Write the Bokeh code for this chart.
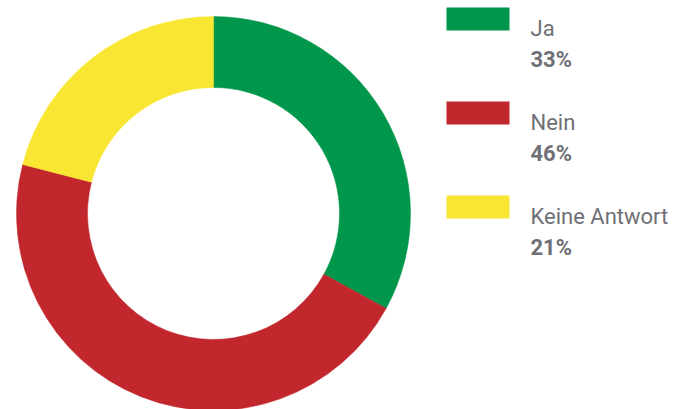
from bokeh.plotting import figure
from bokeh.models import ColumnDataSource
from bokeh.core.properties import value
from bokeh.embed import file_html
from bokeh.resources import INLINE
import math

categories = ["Ja", "Nein", "Keine Antwort"]
shares = [33, 46, 21]
labels = ["33%", "46%", "21%"]
colors = ["#00964b", "#c1272d", "#f8e633"]

W, H = 677, 409
cx, cy = 213, H - 213
r_out, r_in = 197, 126

# clockwise from 12 o'clock
ends, starts = [], []
cur = math.pi / 2
total = sum(shares)
for s in shares:
    nxt = cur - 2 * math.pi * s / total
    ends.append(cur)
    starts.append(nxt)
    cur = nxt

p = figure(width=W, height=H, x_range=(0, W), y_range=(0, H),
           toolbar_location=None, output_backend="svg", min_border=0)
p.axis.visible = False
p.grid.visible = False
p.outline_line_color = None
p.background_fill_color = "white"

src = ColumnDataSource(dict(start=starts, end=ends, color=colors,
                            x=[cx] * 3, y=[cy] * 3))
p.annular_wedge(x="x", y="y", inner_radius=r_in, outer_radius=r_out,
                start_angle="start", end_angle="end", direction="anticlock",
                fill_color="color", line_color="color", line_width=0.5, source=src)

step = 94
sq_y = [H - (7 + 11.5 + i * step) for i in range(3)]
name_y = [H - (28 + i * step) for i in range(3)]
pct_y = [H - (59 + i * step) for i in range(3)]

leg = ColumnDataSource(dict(x=[477.5] * 3, y=sq_y, color=colors,
                            tx=[530] * 3, ny=name_y, py=pct_y,
                            name=categories, pct=labels))
p.rect(x="x", y="y", width=63, height=23, fill_color="color",
       line_color=None, source=leg)
p.text(x="tx", y="ny", text="name", source=leg, text_font=value("Roboto"),
       text_font_size="22px", text_color="#6f7075", text_baseline="alphabetic")
p.text(x="tx", y="py", text="pct", source=leg, text_font=value("Roboto"),
       text_font_size="22px", text_font_style="bold", text_color="#6f7075",
       text_baseline="alphabetic")

open("out.html", "w").write(file_html(p, INLINE))
